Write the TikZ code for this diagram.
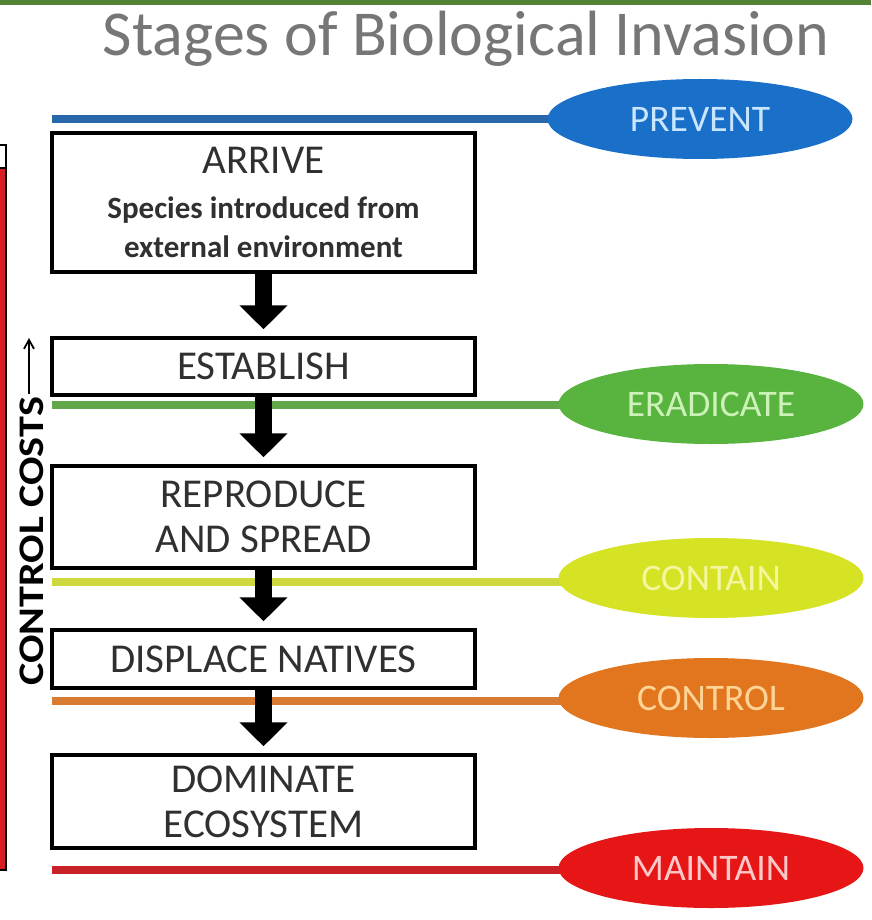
\documentclass[tikz,border=0pt]{standalone}
\usepackage{fontspec}
\setmainfont{Carlito}
\usepackage{tikz}
\usetikzlibrary{arrows.meta,
                positioning,
                shapes.geometric
                }
\pgfdeclarelayer{background}
\pgfsetlayers{background,main}
\definecolor{bandgreen}{RGB}{84,130,53}
\definecolor{titlegray}{RGB}{118,118,118}
\definecolor{stagetext}{RGB}{48,48,48}
\definecolor{costred}{RGB}{214,30,36}
\definecolor{preventfill}{RGB}{26,112,200}
\definecolor{preventline}{RGB}{40,104,170}
\definecolor{preventtext}{RGB}{200,230,255}
\definecolor{eradfill}{RGB}{88,180,62}
\definecolor{eradline}{RGB}{96,168,72}
\definecolor{eradtext}{RGB}{205,242,185}
\definecolor{containfill}{RGB}{214,226,36}
\definecolor{containline}{RGB}{204,216,60}
\definecolor{containtext}{RGB}{244,246,160}
\definecolor{controlfill}{RGB}{226,118,30}
\definecolor{controlline}{RGB}{216,124,52}
\definecolor{controltext}{RGB}{255,212,150}
\definecolor{maintainfill}{RGB}{230,22,22}
\definecolor{maintainline}{RGB}{200,34,40}
\definecolor{maintaintext}{RGB}{255,200,200}

\begin{document}
\begin{tikzpicture}[x=1pt, y=-1pt,
  stage/.style={draw=black, line width=3.5pt, fill=white, minimum width=423pt,
                inner sep=0pt, align=center, text=stagetext,
                font=\fontsize{41}{45}\selectfont},
  goal/.style={ellipse, minimum width=305pt, minimum height=80pt, inner sep=0pt,
               font=\fontsize{37.5}{40}\selectfont},
  flow/.style={line width=17pt, -{Triangle[length=24pt, width=47pt]}, shorten >=7pt},
  level/.style={line width=8pt}]

\useasboundingbox (0,0) rectangle (871,920);

\fill[bandgreen] (0,0) rectangle (871,5);
\node[anchor=base, text=titlegray, font=\fontsize{64}{70}\selectfont] (title) at (466,56) {Stages of Biological Invasion};

% cost bar on the left edge
\fill[white] (-10,145) rectangle (6,168);
\fill[costred] (-10,168) rectangle (6,870);
\draw[line width=2.5pt] (-10,145) rectangle (6,870);
\draw[line width=2.5pt] (-10,168) -- (6,168);
\node[rotate=90, xscale=1.17, anchor=west, inner sep=0pt, font=\bfseries\fontsize{36}{40}\selectfont] (costs) at (32,686) {CONTROL COSTS};
\coordinate (costsbase) at (29,394);
\coordinate (coststip) at (29,338);
\draw[line width=1.8pt, -{Straight Barb[length=9pt, width=10pt]}] (costsbase) -- (coststip);

\node[stage, minimum height=139pt] (arrive) at (263.5,202.5)
  {ARRIVE\\ {\bfseries\fontsize{31}{39}\selectfont Species introduced from}\\[-6pt]
   {\bfseries\fontsize{31}{39}\selectfont external environment}};
\node[stage, minimum height=57pt] (establish) at (263.5,366.5) {ESTABLISH};
\node[stage, minimum height=102pt] (reproduce) at (263.5,517) {REPRODUCE\\ AND SPREAD};
\node[stage, minimum height=58pt] (displace) at (263.5,659) {DISPLACE NATIVES};
\node[stage, minimum height=93pt] (dominate) at (263.5,801.5) {DOMINATE\\ ECOSYSTEM};

\draw[flow] (arrive) -- (establish);
\draw[flow] (establish) -- (reproduce);
\draw[flow] (reproduce) -- (displace);
\draw[flow] (displace) -- (dominate);

\node[goal, fill=preventfill, text=preventtext] (prevent) at (700,119) {PREVENT};
\node[goal, fill=eradfill, text=eradtext] (eradicate) at (711,404) {ERADICATE};
\node[goal, fill=containfill, text=containtext] (contain) at (711,578) {CONTAIN};
\node[goal, fill=controlfill, text=controltext] (control) at (711,698) {CONTROL};
\node[goal, fill=maintainfill, text=maintaintext] (maintain) at (711,868) {MAINTAIN};

\coordinate (preventstart) at (52,119);
\coordinate (eradstart) at (52,405);
\coordinate (containstart) at (52,582);
\coordinate (controlstart) at (52,701);
\coordinate (maintainstart) at (52,870);

\begin{pgfonlayer}{background}
\draw[level, preventline] (preventstart) -- (preventstart -| prevent);
\draw[level, eradline] (eradstart) -- (eradstart -| eradicate);
\draw[level, containline] (containstart) -- (containstart -| contain);
\draw[level, controlline] (controlstart) -- (controlstart -| control);
\draw[level, maintainline] (maintainstart) -- (maintainstart -| maintain);
\end{pgfonlayer}

\end{tikzpicture}
\end{document}
